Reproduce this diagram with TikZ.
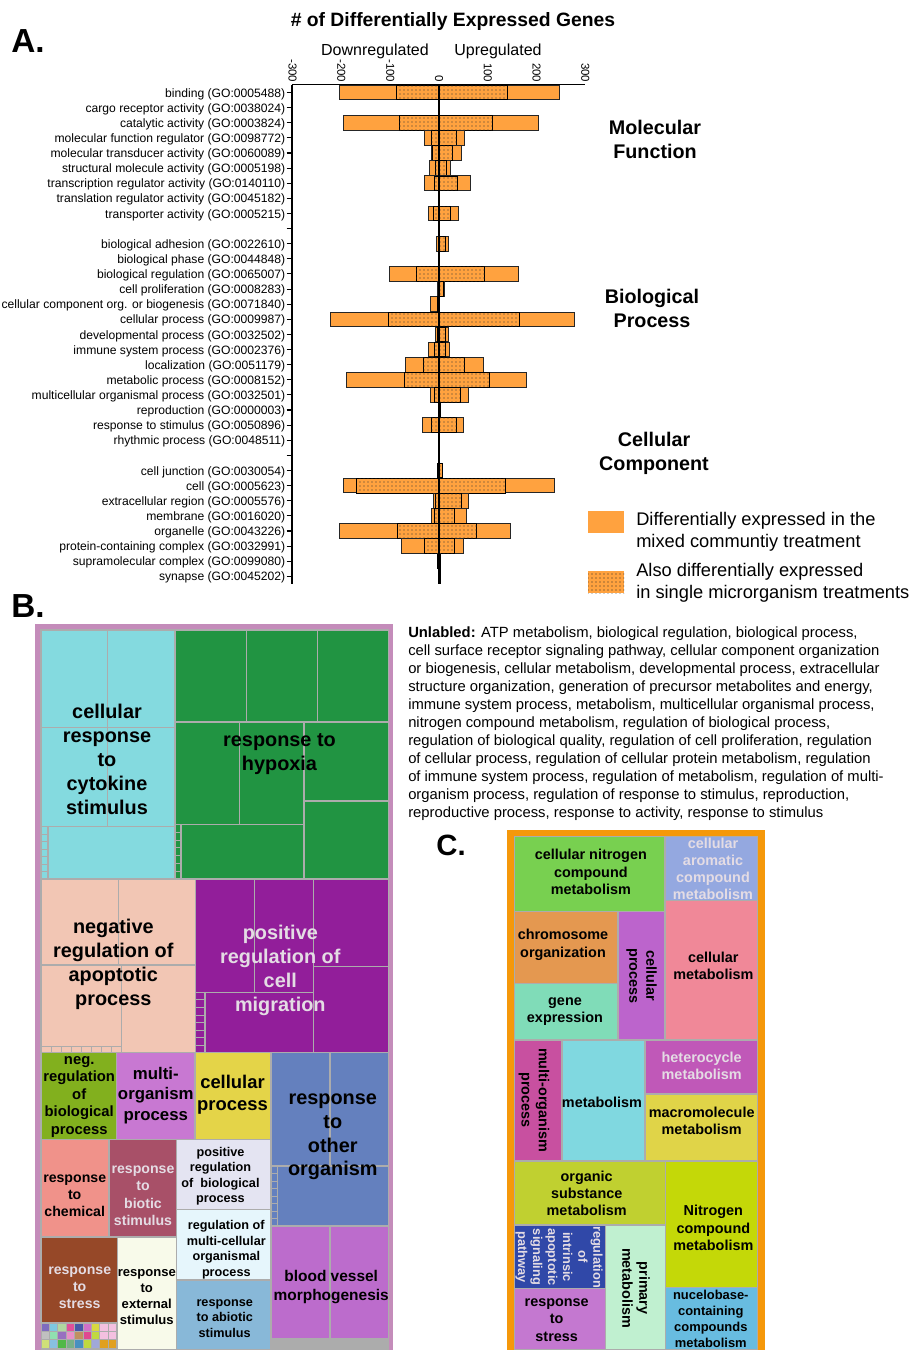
\documentclass[tikz,border=0pt]{standalone}
\usepackage{fontspec}
\setmainfont{Liberation Sans}
\usetikzlibrary{patterns,positioning}

\definecolor{barorange}{RGB}{255,162,63}
\definecolor{tmgray}{RGB}{172,172,172}
\definecolor{tmlight}{RGB}{228,220,228}
\definecolor{frameB}{RGB}{196,140,186}
\definecolor{frameC}{RGB}{245,152,10}
\newcommand{\fsz}[2]{\fontsize{#1}{#2}\selectfont}

\begin{document}
\begin{tikzpicture}[x=0.75pt,y=-0.75pt]
	\tikzset{
		rowlabel/.style={anchor=east,inner sep=0pt,font=\fsz{9.1}{11}},
		ticklabel/.style={anchor=east,rotate=-90,inner sep=0pt,font=\fsz{8.6}{10}},
		catlabel/.style={align=center,inner sep=0pt,font=\bfseries\fsz{14.8}{18}},
		panel/.style={inner sep=0pt,font=\bfseries\fsz{25}{30}},
		outerbar/.style={fill=barorange,draw=black!85,line width=0.7pt},
		innerbar/.style={fill=barorange,postaction={pattern=dots,pattern color=black!80},draw=black,line width=0.6pt},
		tile/.style={draw=tmgray,line width=1.1pt},
		tmtext/.style={align=center,inner sep=0pt,font=\bfseries},
		legtext/.style={anchor=west,align=left,inner sep=0pt,font=\fsz{13.7}{16.5}}
	}
	\useasboundingbox (0,0) rectangle (911,1350);

	%% Panel A: headings
	\node[panel] (lblA) at (28,41) {A.};
	\node[inner sep=0pt,font=\bfseries\fsz{14.5}{17}] (title) at (453,21.5) {\# of Differentially Expressed Genes};
	\node[inner sep=0pt,font=\fsz{12}{14}] (down) at (375,51.5) {Downregulated};
	\node[inner sep=0pt,font=\fsz{12}{14}] (up) at (498,51.5) {Upregulated};
	\foreach \v [count=\k] in {-300,-200,-100,0,100,200,300}
		\node[ticklabel] (tick\k) at ({439+0.488*\v},82.5) {\v};

	%% Panel A: bars (row, down total, up total, down common, up common)
	\foreach \i/\downall/\upall/\downcom/\upcom in {
		0/-203/246/-87/140, 2/-195/204/-81/109, 3/-30/53/-15/36, 4/-16/46/-13/28,
		5/-19/24/-8/15, 6/-29/64/-9/38, 8/-21/40/-11/23, 10/-5/19/-1/14,
		12/-102/163/-47/93, 13/-4/11/-2/8, 14/-17/1/-4/1, 15/-222/277/-104/164,
		16/-7/19/-3/14, 17/-22/21/-10/14, 18/-69/91/-32/53, 19/-190/180/-71/104,
		20/-18/60/-10/43, 21/-2/2/-2/2, 22/-33/51/-15/36, 25/-3/6/-3/6,
		26/-196/236/-169/136, 27/-11/60/-8/46, 28/-16/57/-10/31, 29/-203/146/-85/77,
		30/-76/51/-30/32, 31/-3/2/-3/2, 32/-2/2/-2/2}
	{
		\pgfmathsetmacro{\y}{92.5+15.12*\i}
		\draw[outerbar] ({439+0.488*\downall},\y-7.3) rectangle ({439+0.488*\upall},\y+7.3);
		\draw[innerbar] ({439+0.488*\downcom},\y-7.3) rectangle ({439+0.488*\upcom},\y+7.3);
	}

	%% Panel A: axes
	\draw[line width=0.8pt] (292,84.5) -- (585,84.5);
	\draw[line width=0.8pt] (292,84.5) -- (292,584);
	\draw[line width=1.5pt] (439,84.5) -- (439,584);
	\foreach \i in {0,...,32}
		\draw[line width=0.8pt] (286.5,{92.5+15.12*\i}) -- (292,{92.5+15.12*\i});

	%% Panel A: row labels
	\foreach \i/\lbl in {
		0/{binding (GO:0005488)}, 1/{cargo receptor activity (GO:0038024)},
		2/{catalytic activity (GO:0003824)}, 3/{molecular function regulator (GO:0098772)},
		4/{molecular transducer activity (GO:0060089)}, 5/{structural molecule activity (GO:0005198)},
		6/{transcription regulator activity (GO:0140110)}, 7/{translation regulator activity (GO:0045182)},
		8/{transporter activity (GO:0005215)},
		10/{biological adhesion (GO:0022610)}, 11/{biological phase (GO:0044848)},
		12/{biological regulation (GO:0065007)}, 13/{cell proliferation (GO:0008283)},
		14/{cellular component org. or biogenesis (GO:0071840)}, 15/{cellular process (GO:0009987)},
		16/{developmental process (GO:0032502)}, 17/{immune system process (GO:0002376)},
		18/{localization (GO:0051179)}, 19/{metabolic process (GO:0008152)},
		20/{multicellular organismal process (GO:0032501)}, 21/{reproduction (GO:0000003)},
		22/{response to stimulus (GO:0050896)}, 23/{rhythmic process (GO:0048511)},
		25/{cell junction (GO:0030054)}, 26/{cell (GO:0005623)},
		27/{extracellular region (GO:0005576)}, 28/{membrane (GO:0016020)},
		29/{organelle (GO:0043226)}, 30/{protein-containing complex (GO:0032991)},
		31/{supramolecular complex (GO:0099080)}, 32/{synapse (GO:0045202)}}
		\node[rowlabel] (row\i) at (285.5,{94+15.12*\i}) {\lbl};

	%% Panel A: categories and legend
	\node[catlabel] (molfun) at (655,139) {Molecular\\Function};
	\node[catlabel] (bioproc) at (652,308) {Biological\\Process};
	\node[catlabel] (cellcomp) at (654,453) {Cellular\\Component};
	\fill[barorange] (588,511) rectangle (624,533);
	\node[legtext] (legmixed) at (636,532) {Differentially expressed in the\\mixed communtiy treatment};
	\fill[barorange,postaction={pattern=dots,pattern color=black!85}] (588,571) rectangle (624,593);
	\node[legtext] (legsingle) at (636,582.5) {Also differentially expressed\\in single microrganism treatments};

	%% Panel B: treemap
	\node[panel] (lblB) at (28,606) {B.};
	\fill[frameB] (35,624) rectangle (392.5,1352);
	\fill[tmgray] (41,630) rectangle (388.5,1350);
	% cytokine block
	\fill[fill={rgb,255:red,132;green,218;blue,223},tile] (41,630) rectangle (175,879);
	\draw[tile] (107.7,630) -- (107.7,826.7) (41,727.7) -- (175,727.7) (41,826.7) -- (175,826.7) (48,826.7) -- (48,879);
	\foreach \k in {0,...,6} \draw[tmgray,line width=0.6pt] (41,{826.7+7.47*\k}) rectangle (48,{834.2+7.47*\k});
	% hypoxia block
	\fill[fill={rgb,255:red,33;green,148;blue,66},tile] (175,630) rectangle (388.5,879);
	\draw[tile] (246.7,630) -- (246.7,722) (317.7,630) -- (317.7,722) (175,722) -- (388.5,722)
		(239.3,722) -- (239.3,824.3) (304,722) -- (304,879) (304,801) -- (388.5,801)
		(175,824.3) -- (304,824.3) (181,824.3) -- (181,879);
	\foreach \k in {0,...,6} \draw[tmgray,line width=0.6pt] (175,{824.3+7.8*\k}) rectangle (181,{832.1+7.8*\k});
	% apoptotic block
	\fill[fill={rgb,255:red,242;green,198;blue,180},tile] (41,879) rectangle (195.3,1052.7);
	\draw[tile] (118.3,879) -- (118.3,965) (41,965) -- (195.3,965) (121.7,965) -- (121.7,1052.7) (41,1046.7) -- (121.7,1046.7);
	\foreach \k in {0,...,7} \draw[tmgray,line width=0.6pt] ({41+10.1*\k},1046.7) rectangle ({51.1+10.1*\k},1052.7);
	% migration block
	\fill[fill={rgb,255:red,146;green,30;blue,154},tile] (195.3,879) rectangle (388.5,1052.7);
	\draw[tile] (254.3,879) -- (254.3,992.3) (313.3,879) -- (313.3,1052.7) (313.3,966.7) -- (388.5,966.7)
		(195.3,992.3) -- (313.3,992.3) (205,992.3) -- (205,1052.7);
	\foreach \k in {0,...,7} \draw[tmgray,line width=0.6pt] (195.3,{992.3+7.55*\k}) rectangle (205,{999.85+7.55*\k});
	% third band
	\fill[fill={rgb,255:red,130;green,176;blue,30},tile] (41,1052.7) rectangle (116.7,1139.3);
	\fill[fill={rgb,255:red,200;green,120;blue,210},tile] (116.7,1052.7) rectangle (195,1139.3);
	\fill[fill={rgb,255:red,228;green,212;blue,72},tile] (195,1052.7) rectangle (271,1139.3);
	\fill[fill={rgb,255:red,100;green,128;blue,190},tile] (271,1052.7) rectangle (388.5,1226);
	\draw[tile] (330,1052.7) -- (330,1166) (271,1166) -- (388.5,1166) (277.7,1166) -- (277.7,1226);
	\foreach \k in {0,...,7} \draw[tmgray,line width=0.6pt] (271,{1166+7.5*\k}) rectangle (277.7,{1173.5+7.5*\k});
	\fill[fill={rgb,255:red,240;green,146;blue,138},tile] (41,1139.3) rectangle (108.8,1237);
	\fill[fill={rgb,255:red,168;green,80;blue,104},tile] (108.8,1139.3) rectangle (176.5,1237);
	\fill[fill={rgb,255:red,228;green,228;blue,242},tile] (176.5,1139.3) rectangle (271,1209.5);
	\fill[fill={rgb,255:red,230;green,246;blue,252},tile] (176.5,1209.5) rectangle (271,1280);
	\fill[fill={rgb,255:red,136;green,184;blue,216},tile] (176.5,1280) rectangle (271,1350);
	\fill[fill={rgb,255:red,150;green,72;blue,40},tile] (41,1237) rectangle (117.5,1323);
	\fill[fill={rgb,255:red,248;green,250;blue,234},tile] (117.5,1237) rectangle (176.5,1350);
	\fill[fill={rgb,255:red,188;green,108;blue,204},tile] (271,1226) rectangle (388.5,1338.5);
	\draw[tile] (330,1226) -- (330,1338.5);
	\foreach \k in {0,...,13} \draw[tmgray,line width=0.6pt] ({271+8.39*\k},1338.5) rectangle ({279.39+8.39*\k},1350);
	\foreach \c [count=\k from 0] in {7E6CC0,7EC8E0,B0D8A0,E0509A,4858A8,D070C8,D8D840,F4C0E0,F4C0E0,
		C0C0C0,90E0B0,9870C0,E890C8,C09060,E04890,C0D840,F4C0E0,F4C0E0,
		D0E078,88C0E0,50B848,78B088,4890C0,C0D840,A0A8D8,E0A020,E0A020}
	{
		\pgfmathtruncatemacro{\col}{mod(\k,9)}
		\pgfmathtruncatemacro{\rw}{div(\k,9)}
		\definecolor{tinytile}{HTML}{\c}
		\fill[tinytile,draw=tmgray,line width=0.6pt] ({41+8.4*\col},{1323+8.4*\rw}) rectangle ++(8.4,8.4);
	}
	% treemap B labels
	\node[tmtext,font=\bfseries\fsz{14.9}{18}] (cytokine) at (107,759.5) {cellular\\response\\to\\cytokine\\stimulus};
	\node[tmtext,font=\bfseries\fsz{14.9}{18}] (hypoxia) at (279.5,754) {response to\\hypoxia};
	\node[tmtext,font=\bfseries\fsz{14.9}{18}] (apoptotic) at (113.3,964.6) {negative\\regulation of\\apoptotic\\process};
	\node[tmtext,text=tmlight,font=\bfseries\fsz{14.9}{18}] (migration) at (280.3,970.7) {positive\\regulation of\\cell\\migration};
	\node[tmtext,font=\bfseries\fsz{11.1}{13.1}] (negbio) at (79.2,1097) {neg.\\regulation\\of\\biological\\process};
	\node[tmtext,font=\bfseries\fsz{12.6}{15.4}] (multiorg) at (155.8,1095.3) {multi-\\organism\\process};
	\node[tmtext,font=\bfseries\fsz{13.8}{16.5}] (cellproc) at (232.5,1095) {cellular\\process};
	\node[tmtext,font=\bfseries\fsz{14.9}{17.8}] (otherorg) at (332.8,1137) {response\\to\\other\\organism};
	\node[tmtext,font=\bfseries\fsz{10.6}{12.9}] (chemical) at (74.7,1196) {response\\to\\chemical};
	\node[tmtext,text=tmlight,font=\bfseries\fsz{10.6}{12.9}] (biotic) at (143,1195.8) {response\\to\\biotic\\stimulus};
	\node[tmtext,font=\bfseries\fsz{9.5}{11.6}] (posbio) at (220.5,1176) {positive\\regulation\\of \ biological\\process};
	\node[tmtext,font=\bfseries\fsz{9.5}{11.6}] (multicell) at (226.3,1249.8) {regulation of\\multi-cellular\\organismal\\process};
	\node[tmtext,font=\bfseries\fsz{9.5}{11.6}] (abiotic) at (224.7,1318.5) {response\\to abiotic\\stimulus};
	\node[tmtext,text=tmlight,font=\bfseries\fsz{10.6}{12.9}] (stressB) at (79.7,1288) {response\\to\\stress};
	\node[tmtext,font=\bfseries\fsz{9.8}{12}] (external) at (146.8,1297.5) {response\\to\\external\\stimulus};
	\node[tmtext,font=\bfseries\fsz{11.6}{14.2}] (vessel) at (331.2,1286.7) {blood vessel\\morphogenesis};

	%% Unlabeled list
	\node[anchor=north west,align=left,inner sep=0pt,font=\fsz{11.1}{13.5}] (unlabeled) at (408,626) {\textbf{Unlabled:} ATP metabolism, biological regulation, biological process,\\
		cell surface receptor signaling pathway, cellular component organization\\
		or biogenesis, cellular metabolism, developmental process, extracellular\\
		structure organization, generation of precursor metabolites and energy,\\
		immune system process, metabolism, multicellular organismal process,\\
		nitrogen compound metabolism, regulation of biological process,\\
		regulation of biological quality, regulation of cell proliferation, regulation\\
		of cellular process, regulation of cellular protein metabolism, regulation\\
		of immune system process, regulation of metabolism, regulation of multi-\\
		organism process, regulation of response to stimulus, reproduction,\\
		reproductive process, response to activity, response to stimulus};

	%% Panel C: treemap
	\node[inner sep=0pt,font=\bfseries\fsz{22}{26}] (lblC) at (451,845) {C.};
	\fill[frameC] (507,830) rectangle (765,1352);
	\fill[tmgray] (514.3,836.7) rectangle (757.3,1350);
	\fill[fill={rgb,255:red,120;green,208;blue,80},tile] (514.3,836.7) rectangle (665,911.5);
	\fill[fill={rgb,255:red,148;green,168;blue,224},tile] (665,836.7) rectangle (757.3,900.5);
	\fill[fill={rgb,255:red,240;green,136;blue,152},tile] (665,900.5) rectangle (757.3,1040);
	\fill[fill={rgb,255:red,228;green,152;blue,80},tile] (514.3,911.5) rectangle (618,983.5);
	\fill[fill={rgb,255:red,128;green,220;blue,184},tile] (514.3,983.5) rectangle (618,1040);
	\fill[fill={rgb,255:red,188;green,100;blue,204},tile] (618,911.5) rectangle (665,1040);
	\fill[fill={rgb,255:red,200;green,80;blue,160},tile] (514.3,1040) rectangle (561.8,1160.8);
	\fill[fill={rgb,255:red,128;green,216;blue,224},tile] (561.8,1040) rectangle (645.2,1160.8);
	\fill[fill={rgb,255:red,192;green,88;blue,184},tile] (645.2,1040) rectangle (757.3,1094.2);
	\fill[fill={rgb,255:red,224;green,212;blue,72},tile] (645.2,1094.2) rectangle (757.3,1160.8);
	\fill[fill={rgb,255:red,192;green,208;blue,48},tile] (514.3,1160.8) rectangle (665.3,1225);
	\fill[fill={rgb,255:red,196;green,216;blue,8},tile] (665.3,1160.8) rectangle (757.3,1287.5);
	\fill[fill={rgb,255:red,48;green,72;blue,168},tile] (514.3,1225) rectangle (605.5,1288.5);
	\fill[fill={rgb,255:red,192;green,240;blue,208},tile] (605.5,1225) rectangle (665.3,1350);
	\fill[fill={rgb,255:red,196;green,120;blue,208},tile] (514.3,1288.5) rectangle (605.5,1350);
	\fill[fill={rgb,255:red,104;green,188;blue,224},tile] (665.3,1287.5) rectangle (757.3,1350);
	% treemap C labels
	\node[tmtext,font=\bfseries\fsz{10.8}{12.9}] (cellnitro) at (590.8,872) {cellular nitrogen\\compound\\metabolism};
	\node[tmtext,text=tmlight,font=\bfseries\fsz{10.8}{12.9}] (aromatic) at (713,869) {cellular\\aromatic\\compound\\metabolism};
	\node[tmtext,font=\bfseries\fsz{10.8}{12.9}] (cellmet) at (713.3,966) {cellular\\metabolism};
	\node[tmtext,font=\bfseries\fsz{10.8}{12.9}] (chromo) at (563,944.7) {chromosome\\organization};
	\node[tmtext,font=\bfseries\fsz{10.8}{12.9}] (geneexp) at (565,1011.7) {gene\\expression};
	\node[tmtext,rotate=-90,font=\bfseries\fsz{10.8}{12.9}] (cellprocC) at (641.6,976) {cellular\\process};
	\node[tmtext,rotate=-90,font=\bfseries\fsz{10.8}{12.9}] (multiorgC) at (534,1100) {multi-organism\\process};
	\node[tmtext,font=\bfseries\fsz{10.8}{12.9}] (metab) at (602,1102.7) {metabolism};
	\node[tmtext,text=tmlight,font=\bfseries\fsz{10.8}{12.9}] (hetero) at (701.7,1066) {heterocycle\\metabolism};
	\node[tmtext,font=\bfseries\fsz{10.8}{12.9}] (macro) at (701.7,1121) {macromolecule\\metabolism};
	\node[tmtext,font=\bfseries\fsz{10.8}{12.9}] (organic) at (586.7,1193.3) {organic\\substance\\metabolism};
	\node[tmtext,font=\bfseries\fsz{10.8}{12.9}] (nitro) at (713.3,1228) {Nitrogen\\compound\\metabolism};
	\node[tmtext,rotate=-90,text=tmlight,font=\bfseries\fsz{9.6}{11.3}] (intrinsic) at (559,1257) {regulation\\of\\intrinsic\\apoptotic\\signaling\\pathway};
	\node[tmtext,rotate=-90,font=\bfseries\fsz{10.8}{12.9}] (primary) at (636,1288) {primary\\metabolism};
	\node[tmtext,font=\bfseries\fsz{10.8}{12.9}] (stressC) at (556.7,1320) {response\\to\\stress};
	\node[tmtext,font=\bfseries\fsz{9.7}{12}] (nucleo) at (710.8,1318.8) {nucelobase-\\containing\\compounds\\metabolism};
\end{tikzpicture}
\end{document}
